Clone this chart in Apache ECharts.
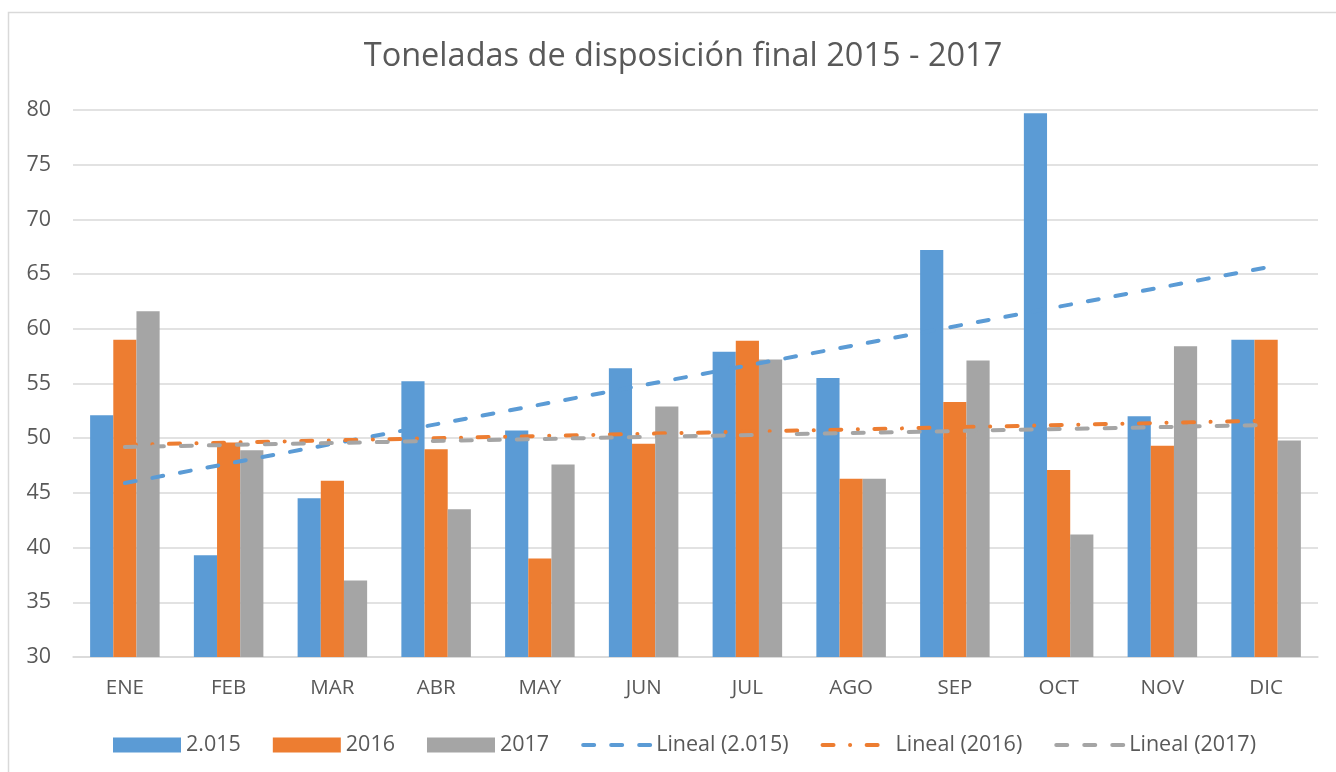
<!DOCTYPE html>
<html>
<head>
<meta charset="utf-8">
<script src="https://cdn.jsdelivr.net/npm/echarts@6/dist/echarts.min.js"></script>
<style>
  html, body { margin: 0; padding: 0; background: #fff; }
  #myChart { width: 1336px; height: 772px; }
</style>
</head>
<body>
<div id="myChart"></div>
<script>
// datos
const meses = ['ENE', 'FEB', 'MAR', 'ABR', 'MAY', 'JUN', 'JUL', 'AGO', 'SEP', 'OCT', 'NOV', 'DIC'];
const ton2015 = [52.1, 39.3, 44.5, 55.2, 50.7, 56.4, 57.9, 55.5, 67.2, 79.7, 52.0, 59.0];
const ton2016 = [59.0, 49.6, 46.1, 49.0, 39.0, 49.5, 58.9, 46.3, 53.3, 47.1, 49.3, 59.0];
const ton2017 = [61.6, 48.9, 37.0, 43.5, 47.6, 52.9, 57.2, 46.3, 57.1, 41.2, 58.4, 49.8];
// extremos de las lineas de tendencia (ENE, DIC)
const lineal2015 = [45.9, 65.6];
const lineal2016 = [49.4, 51.6];
const lineal2017 = [49.2, 51.2];

const fuente = '"Open Sans", sans-serif';
const gris = '#595959';
const guion = [11, 17];
const guionPunto = [11, 16.5, 0.1, 16.5];

function tendencia(ext) {
  return [[0, ext[0]], [meses.length - 1, ext[1]]];
}

let myChart = echarts.init(document.getElementById('myChart'));
myChart.setOption({
  animation: false,
  textStyle: { fontFamily: fuente },
  title: {
    text: 'Toneladas de disposición final 2015 - 2017',
    left: 678,
    top: 35,
    textAlign: 'center',
    textStyle: { fontFamily: fuente, fontSize: 32.5, fontWeight: 'normal', color: gris },
  },
  graphic: [
    {
      type: 'rect',
      shape: { x: 8.5, y: 12.5, width: 1400, height: 800 },
      style: { fill: 'none', stroke: '#d9d9d9', lineWidth: 1.5 },
      silent: true,
    },
  ],
  legend: {
    left: 108,
    top: 729,
    itemWidth: 68,
    itemHeight: 15,
    itemGap: 32,
    textStyle: { fontFamily: fuente, fontSize: 21.5, color: gris },
    data: [
      { name: '2.015', icon: 'rect' },
      { name: '2016', icon: 'rect' },
      { name: '2017', icon: 'rect' },
      { name: 'Lineal (2.015)', itemStyle: { opacity: 0 }, lineStyle: { width: 4, type: guion, cap: 'round' } },
      { name: 'Lineal (2016)', itemStyle: { opacity: 0 }, lineStyle: { width: 4, type: guionPunto, cap: 'round' } },
      { name: 'Lineal (2017)', itemStyle: { opacity: 0 }, lineStyle: { width: 4, type: guion, cap: 'round' } },
    ],
  },
  grid: {
    left: 73,
    right: 18,
    top: 110,
    bottom: 115,
  },
  xAxis: {
    type: 'category',
    data: meses,
    axisTick: { show: false },
    axisLine: { lineStyle: { color: '#d9d9d9', width: 1.5 } },
    axisLabel: { fontFamily: fuente, fontSize: 20.5, color: gris, margin: 21 },
  },
  yAxis: {
    type: 'value',
    min: 30,
    max: 80,
    interval: 5,
    axisLine: { show: false },
    axisTick: { show: false },
    axisLabel: { fontFamily: fuente, fontSize: 21.5, color: gris, margin: 22 },
    splitLine: { lineStyle: { color: '#d9d9d9', width: 1.5 } },
  },
  series: [
    {
      name: '2.015',
      type: 'bar',
      data: ton2015,
      barGap: '0%',
      barCategoryGap: '33%',
      itemStyle: { color: '#5b9bd5' },
    },
    {
      name: '2016',
      type: 'bar',
      data: ton2016,
      itemStyle: { color: '#ed7d31' },
    },
    {
      name: '2017',
      type: 'bar',
      data: ton2017,
      itemStyle: { color: '#a5a5a5' },
    },
    {
      name: 'Lineal (2.015)',
      type: 'line',
      data: tendencia(lineal2015),
      symbol: 'none',
      z: 5,
      itemStyle: { color: '#5b9bd5' },
      lineStyle: { color: '#5b9bd5', width: 4, type: guion, cap: 'round' },
    },
    {
      name: 'Lineal (2016)',
      type: 'line',
      data: tendencia(lineal2016),
      symbol: 'none',
      z: 5,
      itemStyle: { color: '#ed7d31' },
      lineStyle: { color: '#ed7d31', width: 4, type: guionPunto, cap: 'round' },
    },
    {
      name: 'Lineal (2017)',
      type: 'line',
      data: tendencia(lineal2017),
      symbol: 'none',
      z: 5,
      itemStyle: { color: '#a5a5a5' },
      lineStyle: { color: '#a5a5a5', width: 4, type: guion, cap: 'round' },
    },
  ],
});
</script>
</body>
</html>
